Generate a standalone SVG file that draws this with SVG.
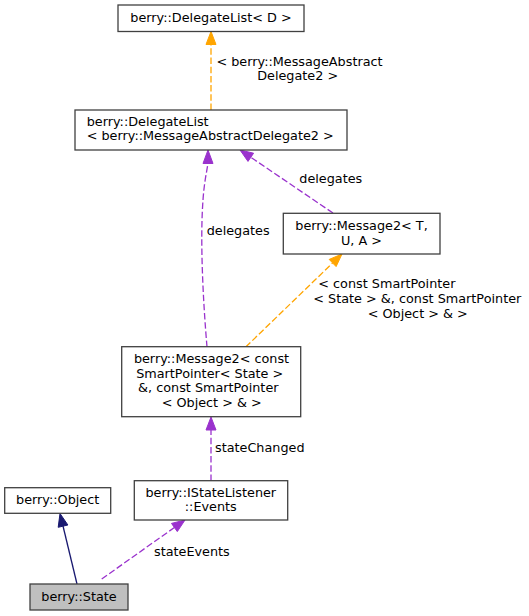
<svg xmlns="http://www.w3.org/2000/svg" width="529" height="616" viewBox="0 0 529 616">
<style>
text{font-family:"DejaVu Sans","Liberation Sans",sans-serif;font-size:12.8px;fill:#000}
.n rect{fill:#fff;stroke:#404040;stroke-width:1.3}
.c{text-anchor:middle}
.e path{fill:none;stroke-width:1.3}
.o{stroke:#ffa500;stroke-dasharray:6.5,2.7}
.p{stroke:#9a32cd;stroke-dasharray:6.5,2.7}
.b{stroke:#191970}
.ao{fill:#ffa500;stroke:#ffa500}
.ap{fill:#9a32cd;stroke:#9a32cd}
.ab{fill:#191970;stroke:#191970}
</style>
<rect width="529" height="616" fill="#fff"/>
<g id="connectors" class="e">
<path class="o" d="M211,110 L211,44.5"/>
<polygon class="ao" points="211,31.5 206,44.5 216,44.5"/>
<text class="c" x="299.5" y="65.7">&lt; berry::MessageAbstract</text>
<text class="c" x="297.7" y="80">Delegate2 &gt;</text>
<path class="p" d="M207,347 C203,300 200,240 203,200 C204,185 206,175 208,163.5"/>
<polygon class="ap" points="208,150 203,163.5 213,163.5"/>
<text x="206.7" y="235">delegates</text>
<path class="p" d="M333,213 L250.8,157.3"/>
<polygon class="ap" points="240,150 253.6,153.2 248,161.4"/>
<text x="299.3" y="183.3">delegates</text>
<path class="o" d="M245.7,347 L332.6,263"/>
<polygon class="ao" points="342,254 336.1,266.6 329.2,259.4"/>
<text x="318.3" y="288.3">&lt; const SmartPointer</text>
<text x="313.3" y="303.3">&lt; State &gt; &amp;, const SmartPointer</text>
<text x="367.7" y="317.7">&lt; Object &gt; &amp; &gt;</text>
<path class="p" d="M211,481 L211,430"/>
<polygon class="ap" points="211,417 206,430 216,430"/>
<text x="215" y="451.7">stateChanged</text>
<path class="b" d="M77,584 L63,526"/>
<polygon class="ab" points="60,513.5 67.9,525 58.2,527.3"/>
<path class="p" d="M101.7,579 L174.4,527.5"/>
<polygon class="ap" points="185,520 177.3,531.6 171.5,523.4"/>
<text x="154" y="555.7">stateEvents</text>
</g>
<g id="node_delegatelist_d" class="n">
<rect x="118" y="5" width="186" height="26.5"/>
<text class="c" x="211" y="22">berry::DelegateList&lt; D &gt;</text>
</g>
<g id="node_delegatelist_mad2" class="n">
<rect x="75" y="110" width="272" height="40"/>
<text x="86.7" y="125.7">berry::DelegateList</text>
<text x="86.7" y="140">&lt; berry::MessageAbstractDelegate2 &gt;</text>
</g>
<g id="node_message2_tua" class="n">
<rect x="283.3" y="213.3" width="156.7" height="40.7"/>
<text class="c" x="361.5" y="230">berry::Message2&lt; T,</text>
<text class="c" x="361.5" y="244.5">U, A &gt;</text>
</g>
<g id="node_message2_const" class="n">
<rect x="121.7" y="346.7" width="179" height="70"/>
<text class="c" x="211.5" y="363.3">berry::Message2&lt; const</text>
<text class="c" x="209.7" y="377.7">SmartPointer&lt; State &gt;</text>
<text class="c" x="208.3" y="392.3">&amp;, const SmartPointer</text>
<text class="c" x="211.7" y="406.7">&lt; Object &gt; &amp; &gt;</text>
</g>
<g id="node_events" class="n">
<rect x="134.3" y="480.7" width="153.4" height="39.3"/>
<text class="c" x="210.8" y="496.7">berry::IStateListener</text>
<text class="c" x="210.8" y="511">::Events</text>
</g>
<g id="node_object" class="n">
<rect x="4.7" y="487.7" width="106" height="25.6"/>
<text class="c" x="57.7" y="504">berry::Object</text>
</g>
<g id="node_state" class="n">
<rect x="30" y="584" width="98" height="26" style="fill:#bfbfbf"/>
<text class="c" x="79" y="601">berry::State</text>
</g>
</svg>
